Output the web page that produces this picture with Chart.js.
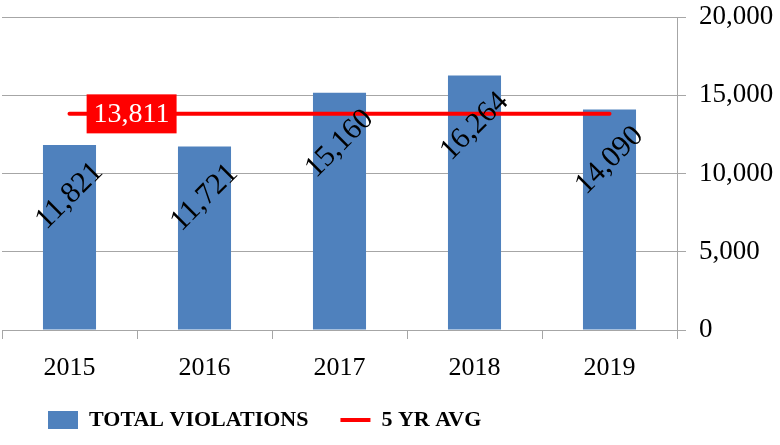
<!DOCTYPE html>
<html><head><meta charset="utf-8">
<script src="https://cdn.jsdelivr.net/npm/chart.js@4/dist/chart.umd.min.js"></script>
<style>html,body{margin:0;padding:0;background:#fff}#wrap{width:780px;height:445px}</style>
</head><body><div id="wrap"><canvas id="c" width="780" height="445" style="width:780px;height:445px"></canvas></div>
<script>
const years = ['2015', '2016', '2017', '2018', '2019'];
const totalViolations = [11821, 11721, 15160, 16264, 14090];
const fiveYearAvg = [13811, 13811, 13811, 13811, 13811];
const avgLabelValue = 13811;
const seriesNames = ['TOTAL VIOLATIONS', '5 YR AVG'];
const yTickValues = [0, 5000, 10000, 15000, 20000];

const FONT = '"Liberation Serif", "Times New Roman", serif';
const GRID = '#a6a6a6';
const fmt = v => Number(v).toLocaleString('en-US');

const labelPlugin = {
  id: 'valueLabels',
  afterDatasetsDraw(chart) {
    const ctx = chart.ctx;
    const meta = chart.getDatasetMeta(0);
    const xs = chart.scales.x, ys = chart.scales.y;
    ctx.save();
    ctx.font = '30px ' + FONT;
    ctx.fillStyle = '#000';
    ctx.textAlign = 'center';
    ctx.textBaseline = 'middle';
    meta.data.forEach((bar, i) => {
      ctx.save();
      ctx.translate(bar.x, bar.y + 51);
      ctx.rotate(-Math.PI / 4);
      ctx.fillText(fmt(totalViolations[i]), 0, 0);
      ctx.restore();
    });
    const x0 = xs.getPixelForValue(0), x1 = xs.getPixelForValue(1);
    const cx = x0 + 0.46 * (x1 - x0);
    const cy = ys.getPixelForValue(avgLabelValue);
    ctx.font = '28px ' + FONT;
    const txt = fmt(avgLabelValue);
    const w = ctx.measureText(txt).width + 14, h = 39;
    ctx.fillStyle = '#FF0000';
    ctx.fillRect(cx - w / 2, cy - h / 2, w, h);
    ctx.fillStyle = '#fff';
    ctx.fillText(txt, cx, cy + 1);
    ctx.restore();
  }
};

const legendShift = {
  id: 'legendShift',
  afterLayout(chart) {
    if (chart.legend) chart.legend.left = 16;
  }
};

new Chart(document.getElementById('c'), {
  type: 'bar',
  data: {
    labels: years,
    datasets: [
      {
        type: 'bar',
        label: seriesNames[0],
        data: totalViolations,
        backgroundColor: '#4F81BD',
        borderWidth: 0,
        barPercentage: 0.393,
        categoryPercentage: 1,
        order: 1
      },
      {
        type: 'line',
        label: seriesNames[1],
        data: fiveYearAvg,
        borderColor: '#FF0000',
        backgroundColor: '#FF0000',
        borderWidth: 4,
        borderCapStyle: 'round',
        pointRadius: 0,
        fill: false,
        order: 0
      }
    ]
  },
  options: {
    responsive: false,
    animation: false,
    layout: { padding: { left: 2, right: 6, top: 0, bottom: 4 } },
    plugins: {
      tooltip: { enabled: false },
      legend: {
        position: 'bottom',
        align: 'start',
        labels: {
          usePointStyle: true,
          pointStyleWidth: 30,
          boxWidth: 30,
          boxHeight: 18,
          padding: 32,
          color: '#000',
          font: { family: FONT, size: 22, weight: 'bold' },
          generateLabels: () => [
            { text: seriesNames[0], fillStyle: '#4F81BD', strokeStyle: '#4F81BD', lineWidth: 0, pointStyle: 'rect', datasetIndex: 0, hidden: false, fontColor: '#000' },
            { text: seriesNames[1], fillStyle: '#FF0000', strokeStyle: '#FF0000', lineWidth: 4, pointStyle: 'line', datasetIndex: 1, hidden: false, fontColor: '#000' }
          ]
        }
      }
    },
    scales: {
      x: {
        offset: true,
        grid: { display: true, drawOnChartArea: false, offset: true, tickLength: 9, color: GRID },
        border: { display: true, color: GRID },
        ticks: { color: '#000', padding: 14, font: { family: FONT, size: 26 } },
        afterFit: s => { s.height = 47; s.paddingLeft = 0; s.paddingRight = 0; }
      },
      y: {
        position: 'right',
        min: 0,
        max: 20000,
        afterBuildTicks: axis => { axis.ticks = yTickValues.map(v => ({ value: v })); },
        grid: { color: GRID, tickLength: 9 },
        border: { display: true, color: GRID },
        ticks: { color: '#000', padding: 13, font: { family: FONT, size: 27 }, callback: v => fmt(v) },
        afterFit: s => { s.width = 97; s.paddingTop = 17; s.paddingBottom = 0; }
      }
    }
  },
  plugins: [labelPlugin, legendShift]
});
</script></body></html>
